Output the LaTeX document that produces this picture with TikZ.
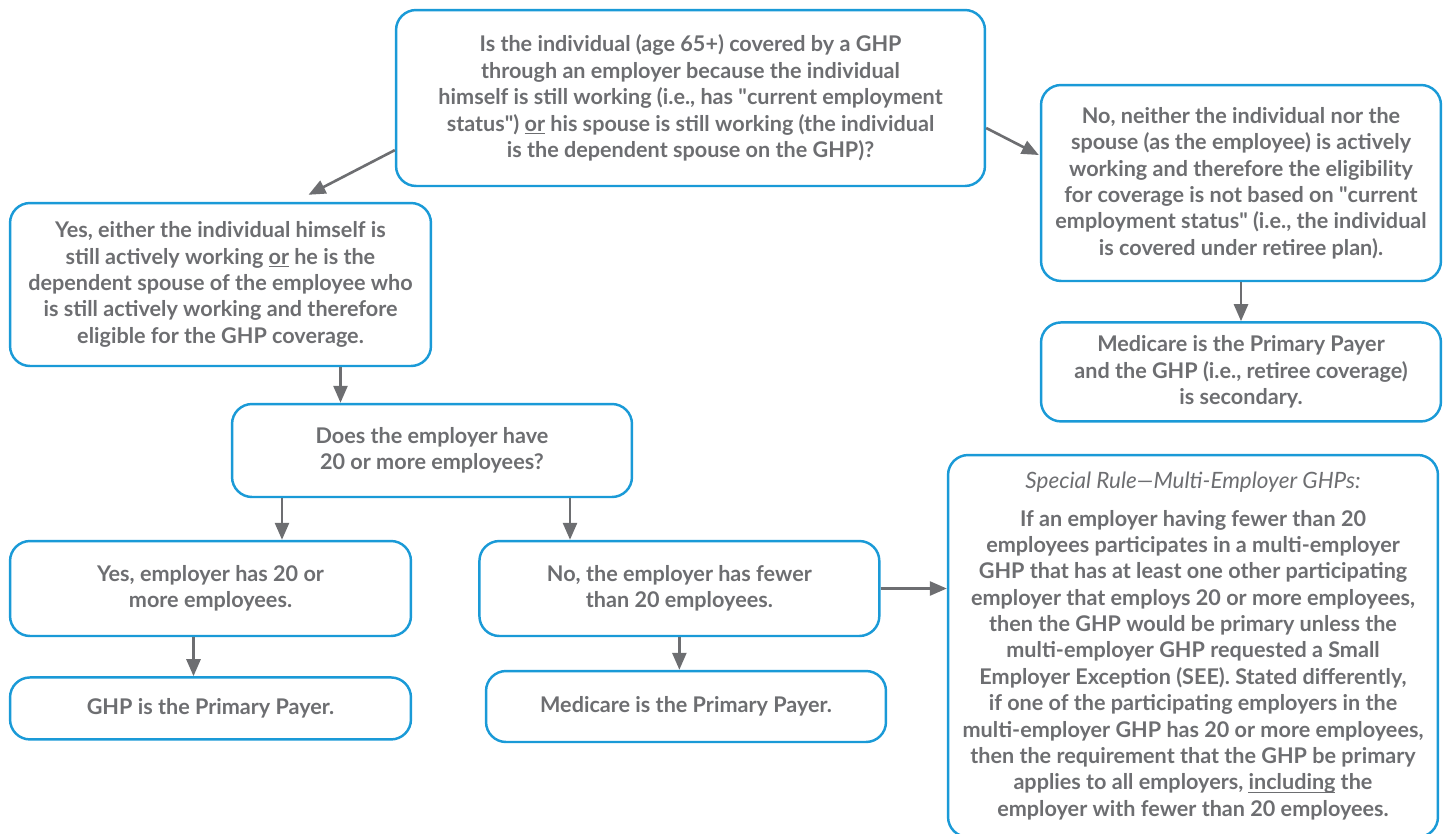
\documentclass[tikz,border=0pt]{standalone}
\usepackage{fontspec}
\setmainfont{Lato}
\usetikzlibrary{arrows.meta,calc,positioning}
\definecolor{boxblue}{HTML}{1A9AD7}
\definecolor{txtgray}{HTML}{6D6E71}
\newcommand\ulword[1]{\underline{\smash{#1}}}
\tikzset{
  stepbox/.style={draw=boxblue, line width=1.4pt, rounded corners=0.4cm, align=center,
    text=txtgray, font=\fontsize{12.3}{15}\selectfont\bfseries, inner sep=0pt},
  arr/.style={draw=txtgray, line width=1.5pt, -{Triangle[length=0.34cm,width=0.28cm]}},
}
\begin{document}
\begin{tikzpicture}[x=0.02cm,y=-0.02cm]
        \clip (0,0) rectangle (1447,833);
        \node[stepbox, minimum width=11.78cm, minimum height=3.52cm] (q1) at (690.5,98)
          {Is the individual (age 65+) covered by a GHP\\ through an employer because the individual\\ himself is still working (i.e., has \textquotedbl current employment\\ status\textquotedbl) \ulword{or} his spouse is still working (the individual\\ is the dependent spouse on the GHP)?};
        \node[stepbox, minimum width=8.42cm, minimum height=3.26cm] (yeswork) at (220.5,284.5)
          {Yes, either the individual himself is\\ still actively working \ulword{or} he is the\\ dependent spouse of the employee who\\ is still actively working and therefore\\ eligible for the GHP coverage.};
        \node[stepbox, minimum width=8cm, minimum height=3.92cm] (nowork) at (1241,183)
          {No, neither the individual nor the\\ spouse (as the employee) is actively\\ working and therefore the eligibility\\ for coverage is not based on \textquotedbl current\\ employment status\textquotedbl\ (i.e., the individual\\ is covered under retiree plan).};
        \node[stepbox, minimum width=8cm, minimum height=1.98cm, below=0.78cm of nowork] (medsec)
          {Medicare is the Primary Payer\\ and the GHP (i.e., retiree coverage)\\ is secondary.};
        \node[stepbox, minimum width=8cm, minimum height=1.86cm] (q2) at (432,450.5)
          {Does the employer have\\ 20 or more employees?};
        \node[stepbox, minimum width=8.02cm, minimum height=1.9cm] (yes20) at (210.5,588.5)
          {Yes, employer has 20 or\\ more employees.};
        \node[stepbox, minimum width=8cm, minimum height=1.9cm, right=1.32cm of yes20] (no20)
          {No, the employer has fewer\\ than 20 employees.};
        \node[stepbox, minimum width=8.02cm, minimum height=1.24cm, below=0.78cm of yes20] (ghppay)
          {GHP is the Primary Payer.};
        \node[stepbox, minimum width=8cm, minimum height=1.42cm] (medpay) at (686,706.5)
          {Medicare is the Primary Payer.};
        \node[stepbox, minimum width=9.8cm, minimum height=7.64cm] (multi) at (1193,646)
          {{\normalfont\itshape\fontsize{12.8}{15}\selectfont Special Rule---Multi-Employer GHPs:}\\[0.22cm]
           If an employer having fewer than 20\\ employees participates in a multi-employer\\ GHP that has at least one other participating\\ employer that employs 20 or more employees,\\ then the GHP would be primary unless the\\ multi-employer GHP requested a Small\\ Employer Exception (SEE). Stated differently,\\ if one of the participating employers in the\\ multi-employer GHP has 20 or more employees,\\ then the requirement that the GHP be primary\\ applies to all employers, \ulword{including} the\\ employer with fewer than 20 employees.};

        \draw[arr] (q1.190) -- ($(yeswork.north)+(88,-7)$);
        \draw[arr] ($(q1.east)+(0,30)$) -- ($(nowork.west)+(-1,-28)$);
        \draw[arr] (nowork.south) -- (medsec.north);
        \draw[arr] ($(yeswork.south)+(120,0)$) coordinate (p) -- (p |- q2.north);
        \draw[arr] ($(q2.south)+(-150,0)$) coordinate (p) -- (p |- yes20.north);
        \draw[arr] ($(q2.south)+(138,0)$) coordinate (p) -- (p |- no20.north);
        \draw[arr] ($(yes20.south)+(-17,0)$) coordinate (p) -- (p |- ghppay.north);
        \draw[arr] (no20.south) -- (no20.south |- medpay.north);
        \draw[arr] (no20.east) -- (no20.east -| multi.west);
    \end{tikzpicture}
\end{document}
